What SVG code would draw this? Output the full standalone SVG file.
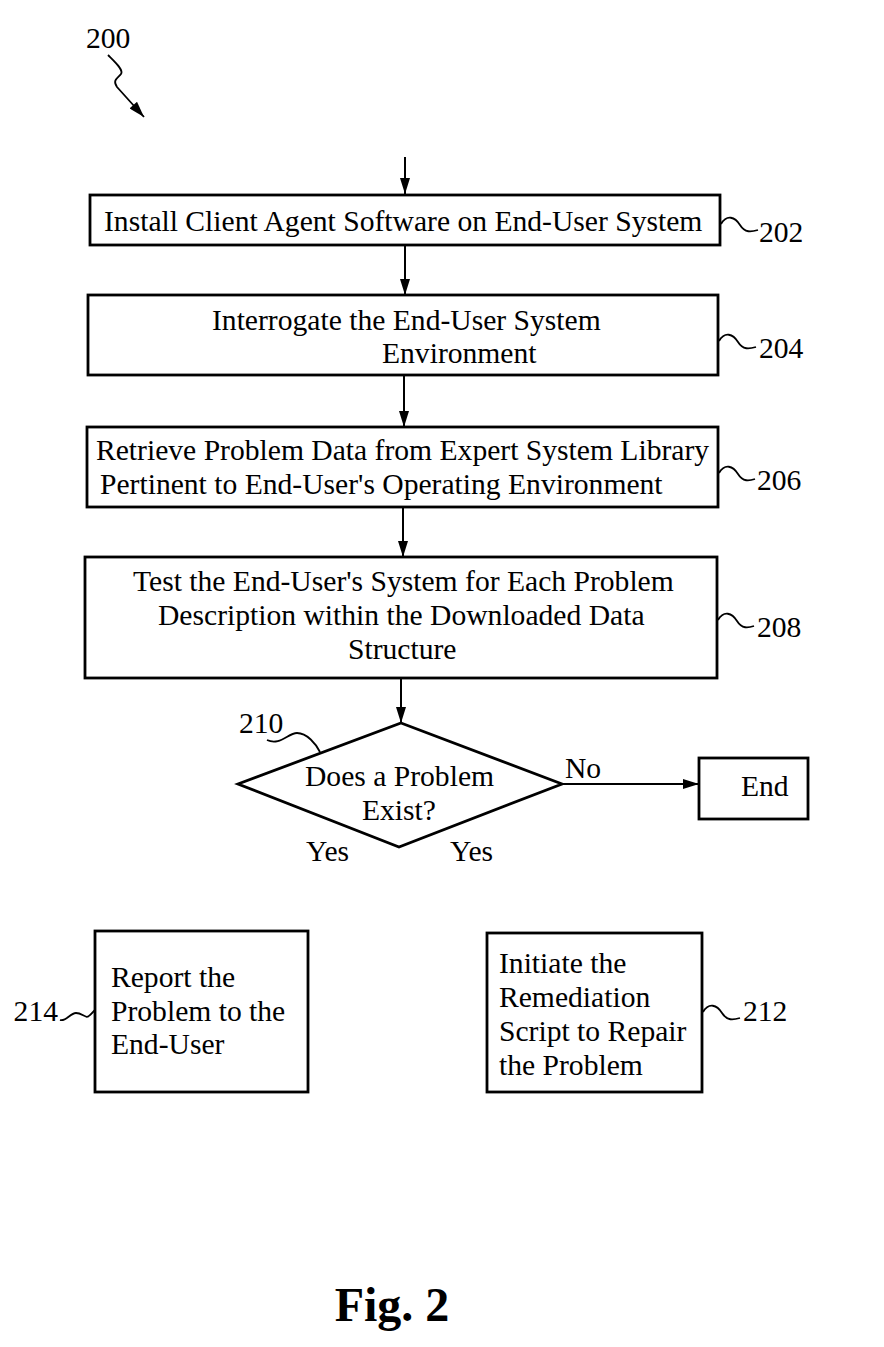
<svg xmlns="http://www.w3.org/2000/svg" width="884" height="1347" viewBox="0 0 884 1347">
<style>
.box{fill:#fff;stroke:#000;stroke-width:2.8}
.t{font-family:"Liberation Serif","Times New Roman",serif;font-size:29.6px;fill:#000}
.ln{fill:none;stroke:#000;stroke-width:2}
.sq{fill:none;stroke:#000;stroke-width:1.8}
</style>
<defs>
<marker id="ah" viewBox="0 0 16 10" refX="16" refY="5" markerWidth="17" markerHeight="10" markerUnits="userSpaceOnUse" orient="auto">
<path d="M0,0 L16,5 L0,10 Z" fill="#000"/>
</marker>
</defs>
<rect width="884" height="1347" fill="#fff"/>

<g id="label200">
<text class="t" x="86" y="48">200</text>
<path class="sq" d="M108,55 C115,62 124,70 121,74 C118,78 112,80 117,87 L144,117" marker-end="url(#ah)"/>
</g>

<g id="connectors">
<line class="ln" x1="405" y1="157" x2="405" y2="194" marker-end="url(#ah)"/>
<line class="ln" x1="405" y1="245" x2="405" y2="295" marker-end="url(#ah)"/>
<line class="ln" x1="404" y1="375" x2="404" y2="427" marker-end="url(#ah)"/>
<line class="ln" x1="403" y1="507" x2="403" y2="557" marker-end="url(#ah)"/>
<line class="ln" x1="401" y1="678" x2="401" y2="723" marker-end="url(#ah)"/>
<line class="ln" x1="562" y1="784" x2="699" y2="784" marker-end="url(#ah)"/>
</g>

<g id="n202">
<rect class="box" x="90" y="195" width="630" height="50"/>
<text class="t" x="104" y="231">Install Client Agent Software on End-User System</text>
<path class="sq" d="M721,224 C727,214 735,217 740,225 C745,233 751,232 758,230"/>
<text class="t" x="759" y="242">202</text>
</g>

<g id="n204">
<rect class="box" x="88" y="295" width="630" height="80"/>
<text class="t" x="212" y="330">Interrogate the End-User System</text>
<text class="t" x="382" y="363">Environment</text>
<path class="sq" d="M719,341 C725,331 733,334 738,342 C743,350 749,349 756,347"/>
<text class="t" x="759" y="358">204</text>
</g>

<g id="n206">
<rect class="box" x="87" y="427" width="631" height="80"/>
<text class="t" x="96" y="460">Retrieve Problem Data from Expert System Library</text>
<text class="t" x="100" y="494">Pertinent to End-User's Operating Environment</text>
<path class="sq" d="M719,473 C725,463 733,466 738,474 C743,482 749,481 755,479"/>
<text class="t" x="757" y="490">206</text>
</g>

<g id="n208">
<rect class="box" x="85" y="557" width="632" height="121"/>
<text class="t" x="133" y="591">Test the End-User's System for Each Problem</text>
<text class="t" x="158" y="625">Description within the Downloaded Data</text>
<text class="t" x="348" y="659">Structure</text>
<path class="sq" d="M718,620 C724,610 732,613 737,621 C742,629 748,628 754,626"/>
<text class="t" x="757" y="637">208</text>
</g>

<g id="n210">
<polygon points="401,723 562,784 399,847 238,784" fill="#fff" stroke="#000" stroke-width="2.8"/>
<text class="t" x="305" y="786">Does a Problem</text>
<text class="t" x="362" y="820">Exist?</text>
<text class="t" x="239" y="733">210</text>
<path class="sq" d="M267,740 C280,746 288,733 297,733 C307,733 316,744 320,752"/>
<text class="t" x="565" y="778">No</text>
<text class="t" x="306" y="861">Yes</text>
<text class="t" x="450" y="861">Yes</text>
</g>

<g id="nEnd">
<rect class="box" x="699" y="758" width="109" height="61"/>
<text class="t" x="741" y="796">End</text>
</g>

<g id="n214">
<rect class="box" x="95" y="931" width="213" height="161"/>
<text class="t" x="111" y="987">Report the</text>
<text class="t" x="111" y="1021">Problem to the</text>
<text class="t" x="111" y="1054">End-User</text>
<path class="sq" d="M60,1020 C66,1022 70,1013 76,1013 C83,1013 86,1020 90,1015 L95,1010"/>
<text class="t" x="58" y="1021" text-anchor="end">214</text>
</g>

<g id="n212">
<rect class="box" x="487" y="933" width="215" height="159"/>
<text class="t" x="499" y="973">Initiate the</text>
<text class="t" x="499" y="1007">Remediation</text>
<text class="t" x="499" y="1041">Script to Repair</text>
<text class="t" x="499" y="1075">the Problem</text>
<path class="sq" d="M703,1012 C709,1002 717,1005 722,1013 C727,1021 733,1020 740,1018"/>
<text class="t" x="743" y="1021">212</text>
</g>

<text x="392" y="1321" text-anchor="middle" font-family="'Liberation Serif','Times New Roman',serif" font-size="48" font-weight="bold">Fig. 2</text>
</svg>
